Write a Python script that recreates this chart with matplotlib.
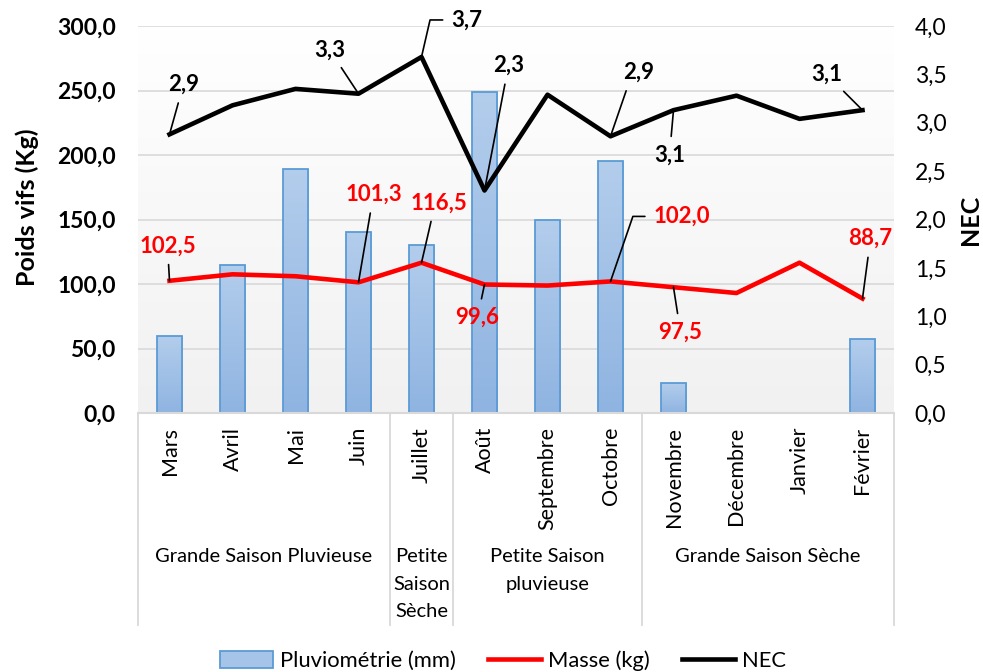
import numpy as np
import matplotlib
matplotlib.use('Agg')
import matplotlib.pyplot as plt
import matplotlib.transforms as mtransforms
from matplotlib.lines import Line2D
from matplotlib.patches import Patch
from matplotlib.colors import LinearSegmentedColormap

plt.rcParams['font.family'] = ['Lato', 'DejaVu Sans']

# ---------------- data ----------------
months = ['Mars', 'Avril', 'Mai', 'Juin', 'Juillet', 'Août', 'Septembre',
          'Octobre', 'Novembre', 'Décembre', 'Janvier', 'Février']
pluvio = [60, 115, 189, 140, 130, 249, 150, 195, 23, 0, 0, 57]
masse = [102.5, 107.5, 106.0, 101.3, 116.5, 99.6, 98.8, 102.0, 97.5, 93.0, 116.5, 88.7]
nec = [2.88, 3.18, 3.35, 3.30, 3.68, 2.30, 3.29, 2.86, 3.13, 3.28, 3.04, 3.13]
seasons = ['Grande Saison Pluvieuse', 'Petite\nSaison\nSèche',
           'Petite Saison\npluvieuse', 'Grande Saison Sèche']
season_spans = [4, 1, 3, 4]
left_ticks = [0, 50, 100, 150, 200, 250, 300]
right_ticks = [0, 0.5, 1.0, 1.5, 2.0, 2.5, 3.0, 3.5, 4.0]

# labelled points: index -> label offset in pixels (dx, dy)
nec_labels = {0: (14, 50), 3: (-29, 44), 4: (45, 37), 5: (24, 125),
              7: (28, 64), 8: (-4, -45), 11: (-36, 36)}
masse_labels = {0: (-2, 35), 3: (15, 88), 4: (17, 60), 5: (-7, -33),
                7: (71, 65), 8: (7, -45), 11: (8, 60)}
bent = {4: 77, 7: 71}  # leader lines with an elbow (angle at point)


def fmt(v):
    return f"{v:.1f}".replace('.', ',')


W, H = 983, 672
fig = plt.figure(figsize=(W / 100, H / 100), dpi=100)
pos = [138 / W, 1 - 413 / H, (894 - 138) / W, (413 - 26) / H]

# background gradient
bg = fig.add_axes(pos, zorder=-1)
bgcmap = LinearSegmentedColormap.from_list('bg', ['#f1f1f1', '#ffffff'])
bg.imshow(np.linspace(0, 1, 256).reshape(-1, 1), cmap=bgcmap, origin='lower',
          aspect='auto', extent=[0, 1, 0, 1])
bg.axis('off')

ax = fig.add_axes(pos)
ax.patch.set_visible(False)
x = np.arange(len(months))

bars = ax.bar(x, pluvio, width=0.41, facecolor='none', edgecolor='#5b9bd5',
              lw=1.3, zorder=2)
barcmap = LinearSegmentedColormap.from_list('bar', ['#8fb4e1', '#b3cdec'])
grad = np.linspace(0, 1, 256).reshape(-1, 1)
for b in bars:
    if b.get_height() <= 0:
        continue
    im = ax.imshow(grad, extent=[b.get_x(), b.get_x() + b.get_width(), 0, b.get_height()],
                   origin='lower', cmap=barcmap, aspect='auto', zorder=1.9)
    im.set_clip_path(b)

ax.plot(x, masse, color='#ff0000', lw=3.3, zorder=4, solid_joinstyle='round')

ax.set_xlim(-0.5, len(months) - 0.5)
ax.set_ylim(0, 300)
ax.set_yticks(left_ticks)
ax.set_yticklabels([fmt(v) for v in left_ticks], fontweight='bold', fontsize=16.5)
ax.tick_params(axis='y', length=0, pad=16)
ax.yaxis.grid(True, color='#d9d9d9', lw=1.2)
ax.set_axisbelow(True)
for s in ['left', 'right', 'top']:
    ax.spines[s].set_visible(False)
ax.spines['bottom'].set_color('#d9d9d9')
ax.spines['bottom'].set_linewidth(1.5)

ax.set_xticks(x)
ax.set_xticklabels(months, rotation=90, fontsize=15.5, va='top')
ax.tick_params(axis='x', length=0, pad=10)

# secondary axis
ax2 = ax.twinx()
ax2.plot(x, nec, color='black', lw=3.3, zorder=4, solid_joinstyle='round')
ax2.set_ylim(0, 4)
ax2.set_yticks(right_ticks)
ax2.set_yticklabels([fmt(v) for v in right_ticks], fontsize=16.5)
ax2.tick_params(axis='y', length=0, pad=15)
for s in ax2.spines.values():
    s.set_visible(False)

# data labels with leader lines
def label(axis, i, vals, offs, color):
    dx, dy = offs
    conn = 'arc3'
    if i in bent:
        conn = f'angle,angleA=0,angleB={bent[i]},rad=0'
    axis.annotate(fmt(vals[i]), xy=(x[i], vals[i]), xytext=(dx, dy),
                  textcoords='offset pixels', ha='center', va='center',
                  fontsize=16, fontweight='bold', color=color, zorder=6,
                  arrowprops=dict(arrowstyle='-', color='black', lw=1.2,
                                  shrinkA=4, shrinkB=0, connectionstyle=conn))

for i, o in nec_labels.items():
    label(ax2, i, nec, o, 'black')
for i, o in masse_labels.items():
    label(ax, i, masse, o, '#ff0000')

# category group axis
trans = mtransforms.blended_transform_factory(ax.transData, ax.transAxes)
bounds = np.concatenate([[0], np.cumsum(season_spans)]) - 0.5
for b in bounds:
    ax.plot([b, b], [0, -0.548], transform=trans, clip_on=False,
            color='#d9d9d9', lw=1.3)
for k, lab in enumerate(seasons):
    c = (bounds[k] + bounds[k + 1]) / 2
    ax.text(c, -0.35, lab, transform=trans, ha='center', va='top',
            fontsize=14.5, linespacing=1.72)

fig.text(27 / W, 1 - 207 / H, 'Poids vifs (Kg)', rotation=90, ha='center',
         va='center', fontsize=18, fontweight='bold')
fig.text(971 / W, 1 - 220 / H, 'NEC', rotation=90, ha='center',
         va='center', fontsize=18, fontweight='bold')

handles = [Patch(facecolor='#a6c3e8', edgecolor='#5b9bd5', lw=1.3),
           Line2D([], [], color='#ff0000', lw=3.3),
           Line2D([], [], color='black', lw=3.3)]
fig.legend(handles, ['Pluviométrie (mm)', 'Masse (kg)', 'NEC'], loc='center',
           bbox_to_anchor=(503 / W, 1 - 661 / H), ncol=3, frameon=False,
           fontsize=15.8, handlelength=2.4, handletextpad=0.3, columnspacing=1.5,
           handleheight=0.8)

fig.savefig('out.png', dpi=100)
